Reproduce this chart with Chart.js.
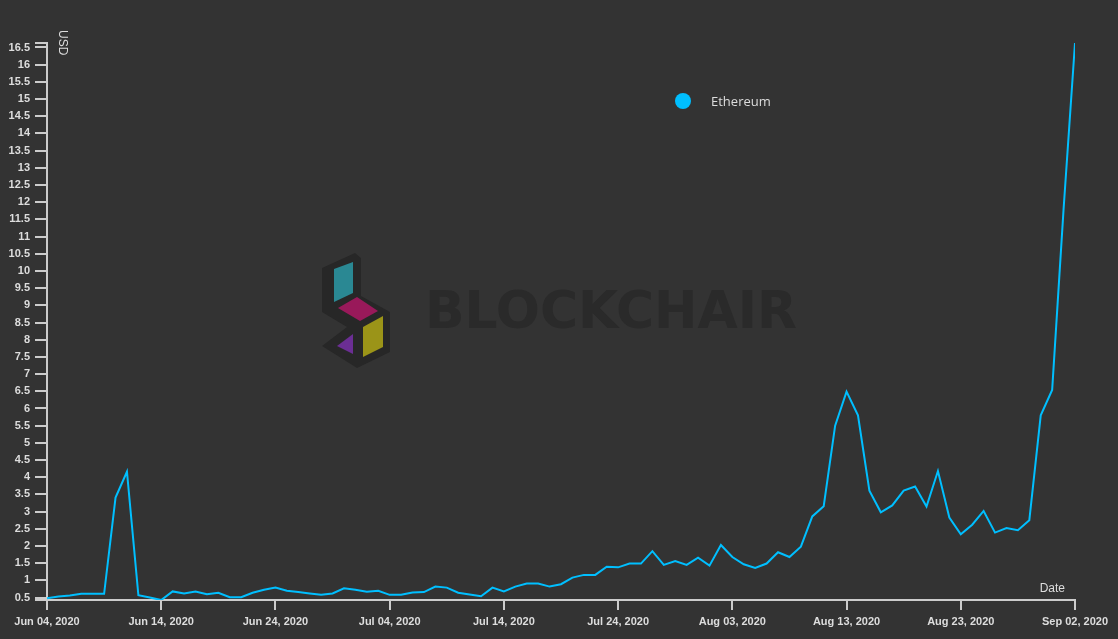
<!DOCTYPE html>
<html>
<head>
<meta charset="utf-8">
<script src="https://cdn.jsdelivr.net/npm/chart.js@4.4.1/dist/chart.umd.min.js"></script>
<style>
    html, body { margin: 0; padding: 0; background: #333333; }
    #wrap { width: 1118px; height: 639px; }
</style>
</head>
<body>
<div id="wrap"><canvas id="feeChart"></canvas></div>
<script>
// tick labels, one every 10 days (Jun 04 .. Sep 02, 2020)
const tickLabels = [
    "Jun 04, 2020", "Jun 14, 2020", "Jun 24, 2020", "Jul 04, 2020", "Jul 14, 2020",
    "Jul 24, 2020", "Aug 03, 2020", "Aug 13, 2020", "Aug 23, 2020", "Sep 02, 2020"
];
const daysPerTick = 10;
const seriesName = "Ethereum";

// daily values, USD
const ethValues = [
    0.48, 0.53, 0.56, 0.61, 0.61, 0.61, 3.41, 4.16, 0.57, 0.50,
    0.43, 0.68, 0.62, 0.68, 0.60, 0.64, 0.51, 0.51, 0.64, 0.73,
    0.79, 0.70, 0.66, 0.62, 0.58, 0.62, 0.77, 0.73, 0.67, 0.70,
    0.58, 0.58, 0.65, 0.66, 0.82, 0.79, 0.64, 0.59, 0.54, 0.79,
    0.68, 0.82, 0.91, 0.91, 0.82, 0.89, 1.08, 1.16, 1.16, 1.40,
    1.38, 1.49, 1.49, 1.85, 1.45, 1.56, 1.45, 1.66, 1.43, 2.03,
    1.68, 1.47, 1.36, 1.49, 1.82, 1.68, 1.98, 2.86, 3.16, 5.50,
    6.49, 5.80, 3.61, 2.98, 3.18, 3.61, 3.73, 3.15, 4.18, 2.83,
    2.34, 2.62, 3.02, 2.39, 2.52, 2.46, 2.75, 5.80, 6.54, 11.8,
    16.63
];

const lineColor = "#00bfff";
const axisColor = "#cccccc";
const textColor = "#dddddd";

let points = ethValues.map((v, i) => ({ x: i, y: v }));

// background, watermark, legend and axis titles
const decorPlugin = {
    id: "decor",
    beforeDraw(chart) {
        let ctx = chart.ctx;
        ctx.save();
        ctx.fillStyle = "#333333";
        ctx.fillRect(0, 0, chart.width, chart.height);

        // watermark logo
        ctx.fillStyle = "#272727";
        ctx.beginPath();
        [[322, 268], [355, 253], [361, 258], [361, 296], [390, 312], [390, 352],
         [357, 368], [322, 346], [347, 327], [322, 312]].forEach((p, i) => {
            if (i === 0) ctx.moveTo(p[0], p[1]); else ctx.lineTo(p[0], p[1]);
        });
        ctx.closePath();
        ctx.fill();
        const shapes = [
            ["#2a8893", [[334, 269], [353, 262], [353, 293], [334, 302]]],
            ["#99195a", [[338, 308], [357, 297], [378, 311], [360, 321]]],
            ["#9b9418", [[363, 327], [383, 316], [383, 347], [363, 357]]],
            ["#6b2e94", [[337, 346], [353, 334], [353, 354]]]
        ];
        shapes.forEach((s) => {
            ctx.fillStyle = s[0];
            ctx.beginPath();
            s[1].forEach((p, i) => {
                if (i === 0) ctx.moveTo(p[0], p[1]); else ctx.lineTo(p[0], p[1]);
            });
            ctx.closePath();
            ctx.fill();
        });

        // watermark text
        ctx.fillStyle = "#2a2a2a";
        ctx.font = "bold 51px 'DejaVu Sans'";
        ctx.textBaseline = "alphabetic";
        let w = ctx.measureText("BLOCKCHAIR").width;
        ctx.translate(425, 328);
        ctx.scale(372 / w, 1);
        ctx.fillText("BLOCKCHAIR", 0, 0);
        ctx.restore();
    },
    afterDraw(chart) {
        let ctx = chart.ctx;
        let area = chart.chartArea;
        ctx.save();

        // outer ticks of the y axis
        ctx.strokeStyle = axisColor;
        ctx.lineWidth = 2;
        ctx.beginPath();
        ctx.moveTo(area.left - 12, area.top);
        ctx.lineTo(area.left, area.top);
        ctx.moveTo(area.left - 12, area.bottom);
        ctx.lineTo(area.left, area.bottom);
        ctx.stroke();

        // legend
        let ds = chart.data.datasets[0];
        ctx.fillStyle = ds.borderColor;
        ctx.beginPath();
        ctx.arc(683, 101, 8, 0, Math.PI * 2);
        ctx.fill();
        ctx.fillStyle = textColor;
        ctx.font = "13px 'Open Sans'";
        ctx.textBaseline = "middle";
        ctx.textAlign = "left";
        ctx.fillText(ds.label, 711, 102);

        // axis titles
        ctx.font = "12px 'Liberation Sans'";
        ctx.textAlign = "right";
        ctx.fillText("Date", area.right - 10, 589);

        ctx.translate(62, 30);
        ctx.rotate(Math.PI / 2);
        ctx.textAlign = "left";
        ctx.fillText("USD", 0, 0);
        ctx.restore();
    }
};

let ctx = document.getElementById("feeChart").getContext("2d");
let feeChart = new Chart(ctx, {
    type: "line",
    data: {
        datasets: [
            {
                label: seriesName,
                data: points,
                borderColor: lineColor,
                backgroundColor: lineColor,
                borderWidth: 2,
                pointRadius: 0,
                tension: 0,
                fill: false
            }
        ]
    },
    options: {
        responsive: true,
        maintainAspectRatio: false,
        animation: false,
        layout: { padding: { top: 43, right: 43, left: 0, bottom: 0 } },
        plugins: {
            legend: { display: false },
            tooltip: { enabled: false }
        },
        scales: {
            x: {
                type: "linear",
                min: 0,
                max: (tickLabels.length - 1) * daysPerTick,
                afterFit: (scale) => { scale.height = 39; },
                border: { color: axisColor, width: 2 },
                grid: { drawOnChartArea: false, drawTicks: true, tickLength: 10, color: axisColor, lineWidth: 2 },
                ticks: {
                    stepSize: daysPerTick,
                    autoSkip: false,
                    maxRotation: 0,
                    padding: 5,
                    color: textColor,
                    font: { family: "'Liberation Sans'", size: 11, weight: "bold" },
                    callback: (value) => tickLabels[Math.round(value / daysPerTick)]
                }
            },
            y: {
                type: "linear",
                min: Math.min(...ethValues),
                max: Math.max(...ethValues),
                afterFit: (scale) => { scale.width = 47; },
                border: { color: axisColor, width: 2 },
                grid: { drawOnChartArea: false, drawTicks: true, tickLength: 12, color: axisColor, lineWidth: 2 },
                ticks: {
                    stepSize: 0.5,
                    includeBounds: false,
                    autoSkip: false,
                    padding: 5,
                    color: textColor,
                    font: { family: "'Liberation Sans'", size: 11, weight: "bold" },
                    callback: (value) => String(Math.round(value * 10) / 10)
                }
            }
        }
    },
    plugins: [decorPlugin]
});
</script>
</body>
</html>
